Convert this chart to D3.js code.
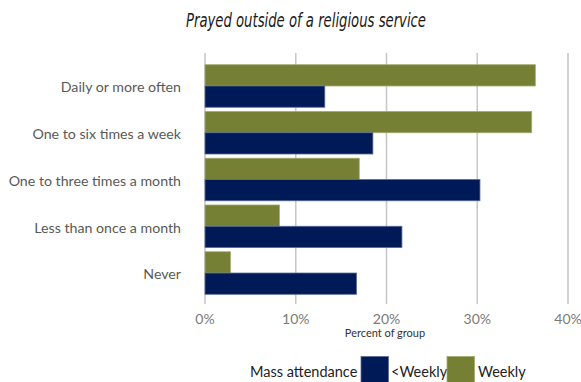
<!DOCTYPE html>
<html>
<head>
<meta charset="utf-8">
<script src="https://cdn.jsdelivr.net/npm/d3@7"></script>
<style>
  html, body { margin: 0; padding: 0; background: #fff; }
  svg { display: block; }
</style>
</head>
<body>
<svg id="chart" width="581" height="382"></svg>
<script>
// Frequency of prayer outside a religious service, by Mass attendance
const categories = [
  "Daily or more often",
  "One to six times a week",
  "One to three times a month",
  "Less than once a month",
  "Never"
];
const seriesNames = ["Weekly", "<Weekly"];
const weekly = [36.4, 36.0, 17.0, 8.2, 2.8];
const lessThanWeekly = [13.2, 18.5, 30.3, 21.7, 16.7];
const xTicks = [0, 10, 20, 30, 40];

const colors = { "Weekly": "#758034", "<Weekly": "#001a57" };
const strokes = { "Weekly": "#a3ab6f", "<Weekly": "#5a6c96" };

const svg = d3.select("#chart");
const margin = { left: 205, right: 13, top: 62.6, bottom: 85.6 };
const W = 581, H = 382;

const x = d3.scaleLinear().domain([0, 40]).range([margin.left, W - margin.right]);
const y = d3.scaleBand().domain(categories).range([margin.top, H - margin.bottom]).paddingInner(0.09).paddingOuter(0.045);
const ySub = d3.scaleBand().domain(seriesNames).range([0, y.bandwidth()]);

const rows = categories.map((c, i) => ({ cat: c, vals: [
  { s: "Weekly", v: weekly[i] },
  { s: "<Weekly", v: lessThanWeekly[i] }
]}));

// Title (condensed italic)
svg.append("text")
  .attr("x", 306).attr("y", 27)
  .attr("text-anchor", "middle")
  .attr("font-family", "'Liberation Sans Narrow', 'DejaVu Sans Condensed', 'Liberation Sans', sans-serif")
  .attr("font-style", "italic")
  .attr("font-size", 20)
  .attr("textLength", 240)
  .attr("lengthAdjust", "spacingAndGlyphs")
  .attr("fill", "#1a1a1a")
  .text("Prayed outside of a religious service");

// Vertical gridlines with ticks below the plot
const gridTop = 53, gridBottom = 304;
svg.append("g").selectAll("line").data(xTicks).join("line")
  .attr("x1", d => x(d)).attr("x2", d => x(d))
  .attr("y1", gridTop).attr("y2", gridBottom)
  .attr("stroke", "#c8c8c8").attr("stroke-width", 1.6);

// Bars
const groups = svg.append("g").selectAll("g").data(rows).join("g")
  .attr("transform", d => `translate(0,${y(d.cat)})`);
groups.selectAll("rect").data(d => d.vals).join("rect")
  .attr("x", x(0))
  .attr("y", d => ySub(d.s))
  .attr("width", d => x(d.v) - x(0))
  .attr("height", ySub.bandwidth())
  .attr("fill", d => colors[d.s])
  .attr("stroke", d => strokes[d.s])
  .attr("stroke-width", 0.8);

// Category labels
svg.append("g").selectAll("text").data(categories).join("text")
  .attr("x", 181)
  .attr("y", d => y(d) + y.bandwidth() / 2 + 1.5)
  .attr("dy", "0.35em")
  .attr("text-anchor", "end")
  .attr("font-family", "Lato, 'Open Sans', sans-serif")
  .attr("font-size", 14.2)
  .attr("fill", "#595959")
  .text(d => d);

// X axis tick labels
svg.append("g").selectAll("text").data(xTicks).join("text")
  .attr("x", d => x(d))
  .attr("y", 324)
  .attr("text-anchor", "middle")
  .attr("font-family", "Lato, 'Open Sans', sans-serif")
  .attr("font-size", 14)
  .attr("fill", "#7a7a7a")
  .text(d => d + "%");

// X axis title
svg.append("text")
  .attr("x", 385).attr("y", 337)
  .attr("text-anchor", "middle")
  .attr("font-family", "Lato, 'Open Sans', sans-serif")
  .attr("font-size", 11)
  .attr("fill", "#333")
  .text("Percent of group");

// Legend
const legend = svg.append("g").attr("font-family", "Lato, 'Open Sans', sans-serif").attr("font-size", 14.5).attr("fill", "#222");
legend.append("text").attr("x", 250).attr("y", 377).text("Mass attendance");
const legendItems = [
  { s: "<Weekly", sx: 361, tx: 391 },
  { s: "Weekly", sx: 447, tx: 478 }
];
legendItems.forEach(it => {
  legend.append("rect").attr("x", it.sx).attr("y", 356.5).attr("width", 27.5).attr("height", 27)
    .attr("fill", colors[it.s]).attr("stroke", strokes[it.s]).attr("stroke-width", 0.8);
  legend.append("text").attr("x", it.tx).attr("y", 377).text(it.s);
});
</script>
</body>
</html>
